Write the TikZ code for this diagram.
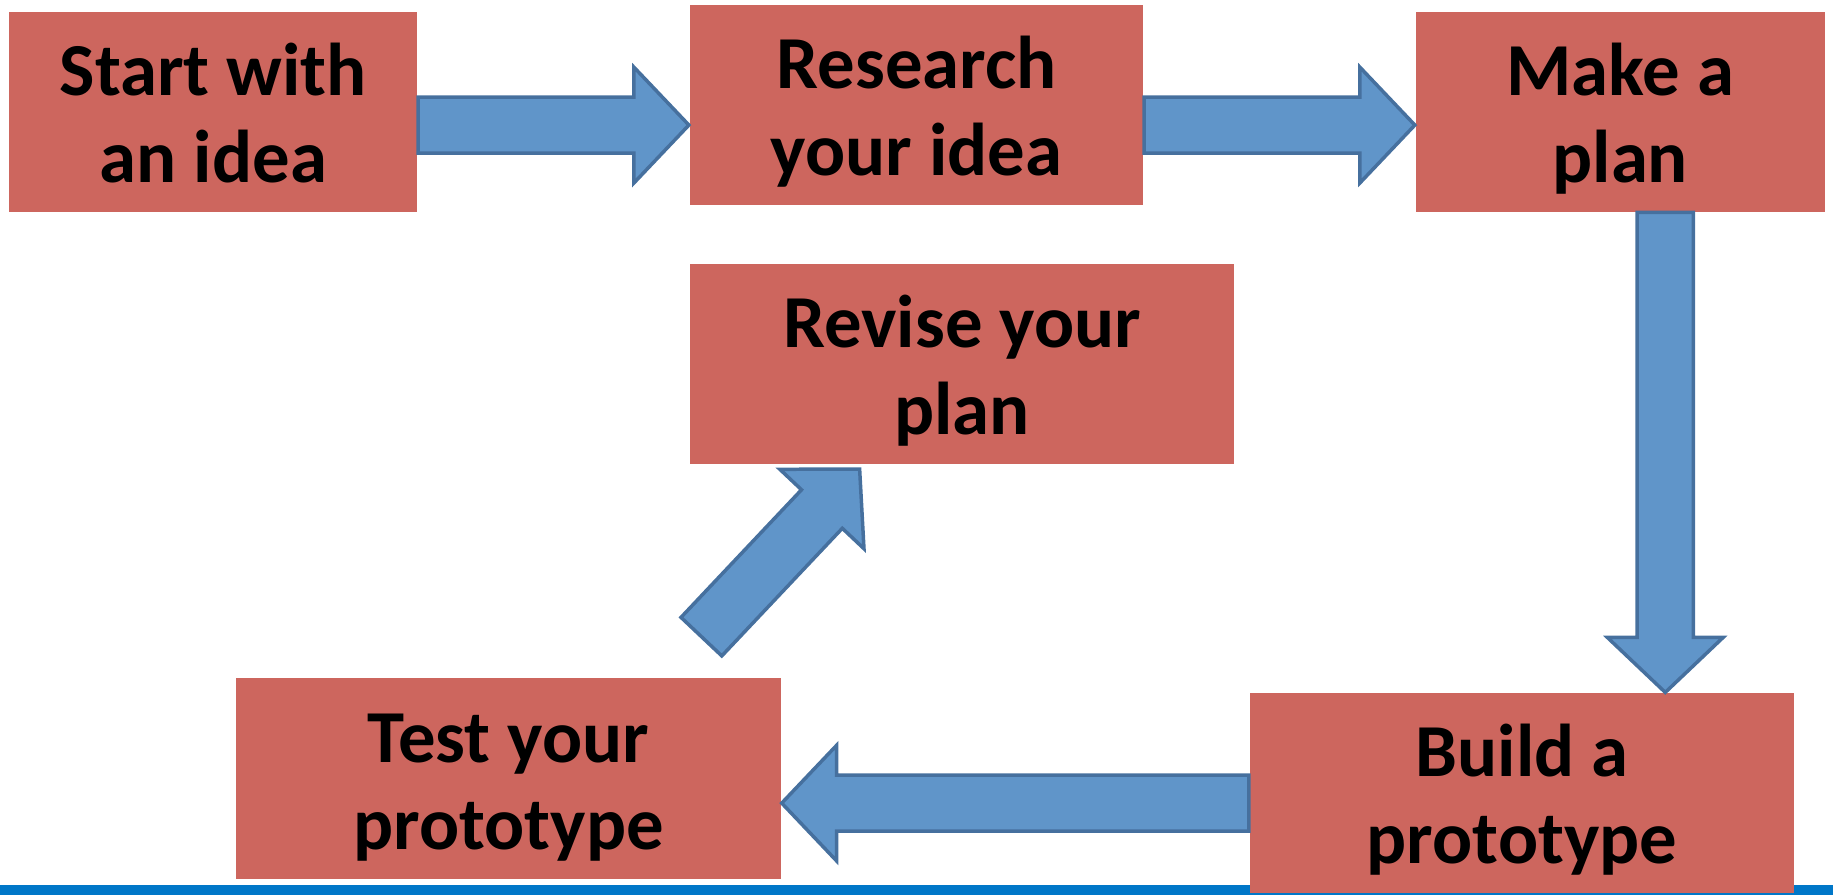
\documentclass[tikz,border=0pt]{standalone}
\usepackage{fontspec}
\setmainfont{Carlito}
\usetikzlibrary{calc}
\definecolor{boxfill}{RGB}{205,102,94}
\definecolor{arrowfill}{RGB}{96,149,201}
\definecolor{arrowline}{RGB}{70,112,158}
\definecolor{bottomrule}{RGB}{0,119,200}
\newcommand{\steplines}[2]{\rule{0pt}{17.5pt}#1\\#2\rule[-4.3pt]{0pt}{4.3pt}}
\newcommand{\blockarrow}[2]{%
	\draw [blockarrow] let \p1 = ($(#2)-(#1)$), \n1 = {atan2(\y1,\x1)}, \n2 = {veclen(\x1,\y1)} in
		($(#1)+(\n1+90:0.24cm)$) -- ++(\n1:{\n2-0.47cm}) -- ++(\n1+90:{0.495cm-0.24cm})
		-- ($(#1)+(\n1:\n2)$)
		-- ($(#1)+(\n1:{\n2-0.47cm})+(\n1-90:0.495cm)$) -- ++(\n1+90:{0.495cm-0.24cm}) -- ++(\n1:{0.47cm-\n2}) -- cycle;}

\begin{document}
\begin{tikzpicture}[stage/.style = { fill = boxfill, inner sep = 0, align = center, minimum height = 1.71cm, font = \bfseries\fontsize{18.2}{21.2}\selectfont }, blockarrow/.style = { draw = arrowline, fill = arrowfill, line width = 0.85pt, line join = miter }]
	\useasboundingbox (0,0) rectangle (15.68,-7.656);
	\fill [bottomrule] (0,-7.57) rectangle (15.68,-7.656);

	\node [stage, minimum width = 3.49cm] (start) at (1.825,-0.955) {\steplines{Start with}{an idea}};
	\node [stage, minimum width = 3.88cm] (research) at (7.84,-0.895) {\steplines{Research}{your idea}};
	\node [stage, minimum width = 3.50cm] (make) at (13.86,-0.955) {\steplines{Make a}{plan}};
	\node [stage, minimum width = 4.66cm] (revise) at (8.23,-3.115) {\steplines{Revise your}{plan}};
	\node [stage, minimum width = 4.66cm, minimum height = 1.72cm] (test) at (4.35,-6.66) {\steplines{Test your}{prototype}};
	\node [stage, minimum width = 4.66cm] (build) at (13.02,-6.785) {\steplines{Build a}{prototype}};

	\coordinate (row1) at (0,-1.07);
	\coordinate (col3) at (14.245,0);
	\coordinate (row4) at (0,-6.87);
	\coordinate (loopTail) at (6.00,-5.446);
	\coordinate (loopTip) at (7.354,-4.012);

	\blockarrow{start.east |- row1}{research.west |- row1}
	\blockarrow{research.east |- row1}{make.west |- row1}
	\blockarrow{make.south -| col3}{build.north -| col3}
	\blockarrow{build.west |- row4}{test.east |- row4}
	\blockarrow{loopTail}{loopTip}
\end{tikzpicture}
\end{document}
